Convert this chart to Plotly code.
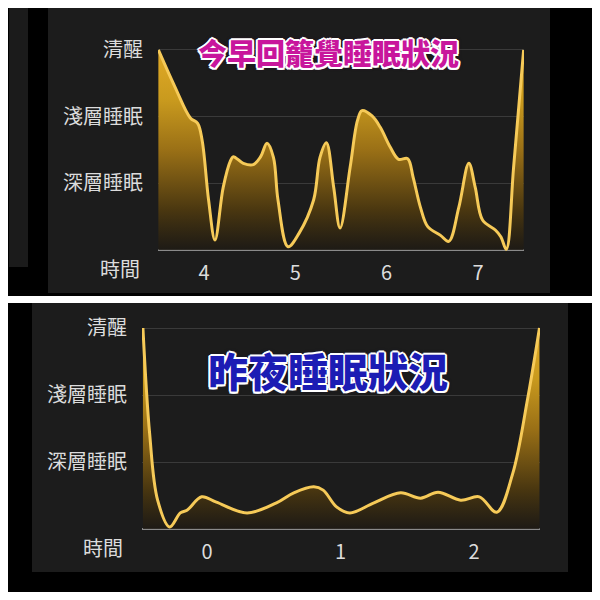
import plotly.graph_objects as go

# ---- data (hours vs sleep level: 0 baseline, 1 deep, 2 light, 3 awake) ----
morning_x = [3.50, 3.68, 3.85, 3.93, 3.98, 4.05, 4.12, 4.21, 4.29, 4.32, 4.43, 4.54, 4.62, 4.69,
             4.76, 4.81, 4.92, 5.04, 5.20, 5.27, 5.34, 5.42, 5.49, 5.60, 5.68, 5.73, 5.84, 5.93,
             6.04, 6.13, 6.23, 6.29, 6.37, 6.45, 6.59, 6.68, 6.79, 6.90, 6.97, 7.05, 7.19, 7.25,
             7.31, 7.39, 7.50]
morning_y = [3.00, 2.45, 1.98, 1.90, 1.64, 0.75, 0.15, 0.94, 1.34, 1.40, 1.30, 1.28, 1.40, 1.60,
             1.39, 0.75, 0.05, 0.25, 0.75, 1.39, 1.61, 0.94, 0.33, 1.24, 1.94, 2.09, 2.01, 1.84,
             1.54, 1.36, 1.37, 1.09, 0.64, 0.35, 0.22, 0.13, 0.64, 1.30, 0.94, 0.45, 0.30, 0.20,
             0.01, 1.24, 3.00]

night_x = [-0.48, -0.43, -0.37, -0.28, -0.20, -0.15, -0.04, 0.07, 0.30, 0.52, 0.65, 0.80, 0.87,
           0.97, 1.07, 1.25, 1.45, 1.60, 1.73, 1.90, 2.04, 2.17, 2.29, 2.40, 2.49]
night_y = [3.00, 1.43, 0.43, 0.03, 0.24, 0.28, 0.48, 0.40, 0.24, 0.39, 0.54, 0.63, 0.58,
           0.33, 0.24, 0.39, 0.54, 0.46, 0.55, 0.43, 0.48, 0.25, 0.83, 1.93, 3.00]

level_vals = [1, 2, 3]
level_text = ["深層睡眠", "淺層睡眠", "清醒"]
morning_ticks = [4, 5, 6, 7]
night_ticks = [0, 1, 2]
title_morning = "今早回籠覺睡眠狀況"
title_night = "昨夜睡眠狀況"
time_label = "時間"

# the page body adds an 8px margin, so the figure covers window pixels 8..600
OX = OY = 8
FW = FH = 592
FONT = "Noto Sans CJK TC"
LINE_COLOR = "#f6ca58"
grad = [[0.0, "rgba(30,26,20,0.85)"], [0.2, "#4a3710"], [0.5, "#9a7016"],
        [0.75, "#c99a1e"], [1.0, "#e2aa26"]]


def px_x(v):
    return (v - OX) / FW


def px_y(v):
    return 1 - (v - OY) / FH


fig = go.Figure()

fig.add_trace(go.Scatter(
    x=morning_x, y=morning_y, mode="lines", xaxis="x", yaxis="y",
    line=dict(color=LINE_COLOR, width=3, shape="spline", smoothing=1.0),
    fill="tozeroy",
    fillgradient=dict(type="vertical", colorscale=grad, start=0, stop=3),
    hoverinfo="skip", showlegend=False))

fig.add_trace(go.Scatter(
    x=night_x, y=night_y, mode="lines", xaxis="x2", yaxis="y2",
    line=dict(color=LINE_COLOR, width=3, shape="spline", smoothing=1.0),
    fill="tozeroy",
    fillgradient=dict(type="vertical", colorscale=grad, start=0, stop=3),
    hoverinfo="skip", showlegend=False))

yr = [-0.1, 3.1]
unit = 67.0
top_dom = [px_y(250 + 0.1 * unit), px_y(50 - 0.1 * unit)]
bot_dom = [px_y(529 + 0.1 * unit), px_y(328 - 0.1 * unit)]

axis_font = dict(family=FONT, size=20, color="#dcdcdc")
yaxis_common = dict(range=yr, tickvals=level_vals, ticktext=level_text,
                    showgrid=True, gridcolor="#3a3a3a", gridwidth=1,
                    zeroline=True, zerolinecolor="#8a8a8a", zerolinewidth=1.5,
                    showline=False, ticks="", tickfont=axis_font,
                    ticklabelstandoff=14, fixedrange=True, automargin=False)
xaxis_common = dict(showgrid=False, zeroline=False, showline=False, ticks="",
                    tickfont=axis_font, fixedrange=True, ticklabelstandoff=2,
                    automargin=False)

fig.update_layout(
    width=FW, height=FH,
    margin=dict(l=0, r=0, t=0, b=0, pad=0, autoexpand=False),
    paper_bgcolor="white", plot_bgcolor="rgba(0,0,0,0)",
    xaxis=dict(domain=[px_x(158), px_x(524)], range=[3.496, 7.504],
               tickvals=morning_ticks, anchor="y", **xaxis_common),
    yaxis=dict(domain=top_dom, anchor="x", **yaxis_common),
    xaxis2=dict(domain=[px_x(142), px_x(540)], range=[-0.487, 2.494],
                tickvals=night_ticks, anchor="y2", **xaxis_common),
    yaxis2=dict(domain=bot_dom, anchor="x2", **yaxis_common),
)

shapes = []


def rect(x0, y0, x1, y1, color):
    shapes.append(dict(type="rect", xref="paper", yref="paper",
                       x0=px_x(x0), x1=px_x(x1), y0=px_y(y1), y1=px_y(y0),
                       fillcolor=color, line=dict(width=0), layer="below"))


# top screenshot
rect(7, 7, 592, 296, "#000000")
rect(9, 8, 28, 267, "#1b1b1b")
rect(48, 8, 550, 293, "#1c1c1c")
# bottom screenshot
rect(7, 303, 592, 592, "#000000")
rect(32, 303, 568, 572, "#1c1c1c")
fig.update_layout(shapes=shapes)

outline = ("2px 0 0 #fff, -2px 0 0 #fff, 0 2px 0 #fff, 0 -2px 0 #fff, "
           "1.5px 1.5px 0 #fff, -1.5px -1.5px 0 #fff, 1.5px -1.5px 0 #fff, "
           "-1.5px 1.5px 0 #fff, 0 0 4px rgba(60,0,50,0.9)")
outline_b = outline.replace("rgba(60,0,50,0.9)", "rgba(0,0,60,0.9)")

annotations = [
    dict(text=title_morning, xref="paper", yref="paper", x=px_x(328), y=px_y(52),
         xanchor="center", yanchor="middle", showarrow=False,
         font=dict(family=FONT, size=29, color="#c8169c", weight=900, shadow=outline)),
    dict(text=title_night, xref="paper", yref="paper", x=px_x(328), y=px_y(370),
         xanchor="center", yanchor="middle", showarrow=False,
         font=dict(family=FONT, size=40, color="#1c1cb4", weight=900, shadow=outline_b)),
    dict(text=time_label, xref="paper", yref="paper", x=px_x(142), y=px_y(268),
         xanchor="right", yanchor="middle", showarrow=False, font=axis_font),
    dict(text=time_label, xref="paper", yref="paper", x=px_x(125), y=px_y(547),
         xanchor="right", yanchor="middle", showarrow=False, font=axis_font),
]
fig.update_layout(annotations=annotations)

fig.write_html("out.html")
